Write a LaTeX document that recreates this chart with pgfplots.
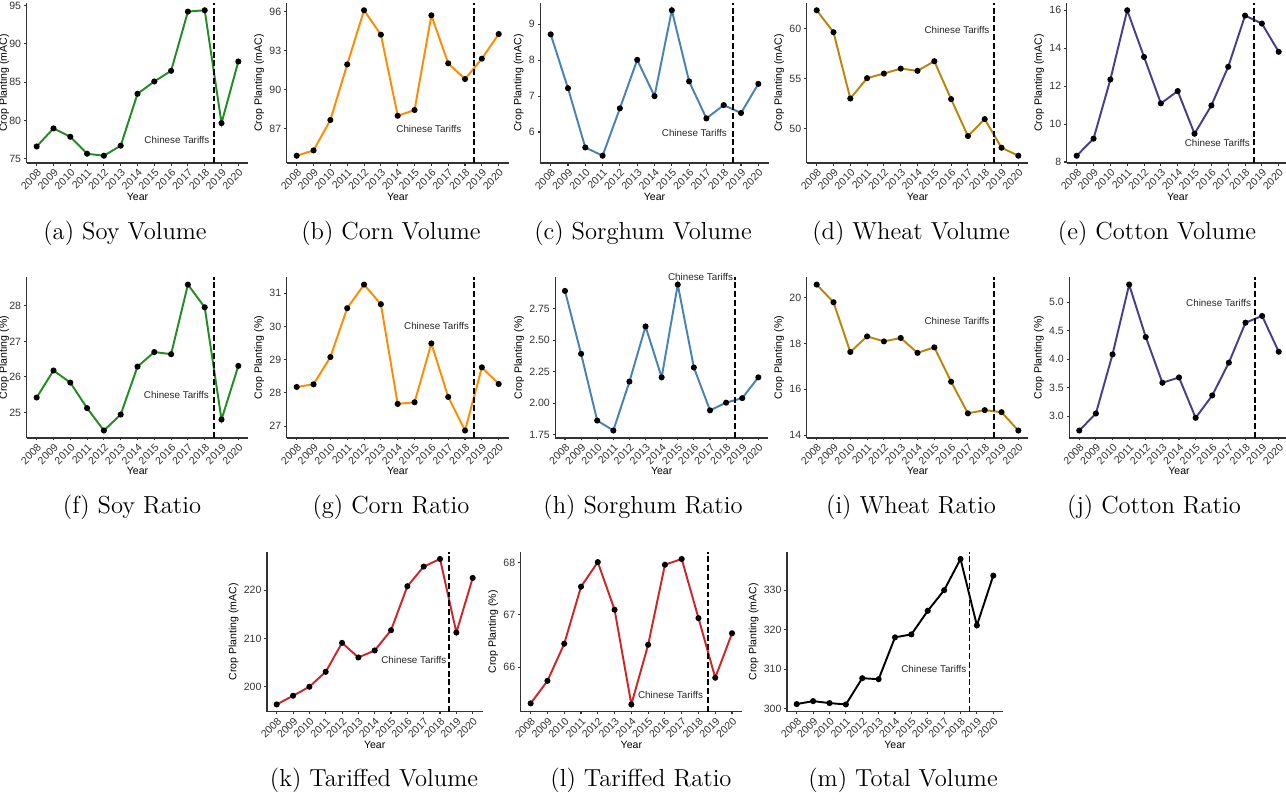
\documentclass[border=0pt]{standalone}
\usepackage{fontspec}
\usepackage{pgfplots}
\pgfplotsset{compat=1.18}
\newfontfamily\arial{Liberation Sans}
\newcommand\tk{\arial\fontsize{6}{7}\selectfont}
\newcommand\lb{\arial\fontsize{6}{7}\selectfont}
\newcommand\ct{\arial\fontsize{5.6}{6}\selectfont}
\newcommand\capfont{\fontsize{14}{16}\selectfont}
\definecolor{Soy}{HTML}{228B22}
\definecolor{Corn}{HTML}{FF8C00}
\definecolor{Sorghum}{HTML}{4682B4}
\definecolor{Wheat}{HTML}{B8860B}
\definecolor{Cotton}{HTML}{483D8B}
\definecolor{Tariffed}{HTML}{CD2626}
\pgfplotsset{
  panel/.style={
    scale only axis,anchor=south west,clip=false,
    axis lines=left,axis line style={-,draw=black!80,line width=0.8pt},
    xmin=2007.4,xmax=2020.6,enlarge y limits=0.05,
    xtick={2008,...,2020},
    xticklabels={2008,2009,2010,2011,2012,2013,2014,2015,2016,2017,2018,2019,2020},
    tick align=outside,major tick length=0.05cm,
    tick style={draw=black!80,line width=0.6pt},
    xticklabel style={rotate=45,anchor=north east,font=\tk,text=black!80,inner sep=1pt},
    yticklabel style={font=\tk,text=black!80,inner sep=1.5pt},
    xlabel={Year},label style={font=\lb},
    xlabel style={yshift=3.5pt},ylabel style={yshift=-2pt},
    every axis plot/.append style={line width=1.1pt,mark=*,mark size=1.15pt,
      mark options={draw=black,fill=black,solid}},
  },
  edge/.style={ylabel style={yshift=-2.8pt}},
}
\newcommand\tariff[2]{%
  \draw[black,line width=1pt,dash pattern=on 3.4pt off 1.6pt]
    ({axis cs:2018.55,0}|-{rel axis cs:0,0}) -- ({axis cs:2018.55,0}|-{rel axis cs:0,1});
  \node[anchor=east,font=\ct,text=black!85,inner sep=0pt] at (axis cs:#1,#2) {Chinese Tariffs};}

\begin{document}
\begin{tikzpicture}
\useasboundingbox (0,0) rectangle (25.72cm,-16.08cm);

% row 1: volumes
\begin{axis}[panel,edge,at={(0.532cm,-3.26cm)},width=4.436cm,height=3.2cm,
  ylabel={Crop Planting (mAC)},ytick={75,80,85,90,95},yticklabels={75,80,85,90,95}]
  \addplot[Soy] coordinates {(2008,76.6) (2009,78.96) (2010,77.87) (2011,75.65) (2012,75.39)
    (2013,76.7) (2014,83.48) (2015,85.09) (2016,86.48) (2017,94.22) (2018,94.39) (2019,79.65) (2020,87.7)};
  \tariff{2018.3}{77.4}
\end{axis}

\begin{axis}[panel,at={(5.732cm,-3.26cm)},width=4.444cm,height=3.2cm,
  ylabel={Crop Planting (mAC)},ytick={87,90,93,96},yticklabels={87,90,93,96}]
  \addplot[Corn] coordinates {(2008,84.92) (2009,85.33) (2010,87.67) (2011,91.96) (2012,96.13)
    (2013,94.25) (2014,88.0) (2015,88.44) (2016,95.74) (2017,92.04) (2018,90.83) (2019,92.4) (2020,94.3)};
  \tariff{2017.8}{87.0}
\end{axis}

\begin{axis}[panel,at={(10.806cm,-3.26cm)},width=4.568cm,height=3.2cm,
  ylabel={Crop Planting (mAC)},ytick={6,7,8,9},yticklabels={6,7,8,9}]
  \addplot[Sorghum] coordinates {(2008,8.72) (2009,7.22) (2010,5.57) (2011,5.34) (2012,6.66)
    (2013,8.01) (2014,7.0) (2015,9.39) (2016,7.41) (2017,6.38) (2018,6.75) (2019,6.53) (2020,7.34)};
  \tariff{2018.2}{5.96}
\end{axis}

\begin{axis}[panel,at={(16.132cm,-3.26cm)},width=4.436cm,height=3.2cm,
  ylabel={Crop Planting (mAC)},ytick={50,55,60},yticklabels={50,55,60}]
  \addplot[Wheat] coordinates {(2008,61.87) (2009,59.67) (2010,53.03) (2011,55.07) (2012,55.53)
    (2013,56.03) (2014,55.8) (2015,56.77) (2016,52.97) (2017,49.27) (2018,50.97) (2019,48.1) (2020,47.3)};
  \tariff{2018.3}{59.93}
\end{axis}

\begin{axis}[panel,at={(21.332cm,-3.26cm)},width=4.444cm,height=3.2cm,
  ylabel={Crop Planting (mAC)},ytick={8,10,12,14,16},yticklabels={8,10,12,14,16}]
  \addplot[Cotton] coordinates {(2008,8.33) (2009,9.23) (2010,12.35) (2011,16.0) (2012,13.54)
    (2013,11.09) (2014,11.74) (2015,9.49) (2016,10.98) (2017,13.02) (2018,15.72) (2019,15.30) (2020,13.81)};
  \tariff{2018.3}{8.98}
\end{axis}

% row 2: ratios
\begin{axis}[panel,edge,at={(0.532cm,-8.756cm)},width=4.436cm,height=3.21cm,
  ylabel={Crop Planting (\%)},ytick={25,26,27,28},yticklabels={25,26,27,28}]
  \addplot[Soy] coordinates {(2008,25.42) (2009,26.18) (2010,25.84) (2011,25.12) (2012,24.49)
    (2013,24.94) (2014,26.29) (2015,26.70) (2016,26.64) (2017,28.60) (2018,27.96) (2019,24.80) (2020,26.31)};
  \tariff{2018.27}{25.48}
\end{axis}

\begin{axis}[panel,at={(5.732cm,-8.756cm)},width=4.444cm,height=3.21cm,
  ylabel={Crop Planting (\%)},ytick={27,28,29,30,31},yticklabels={27,28,29,30,31}]
  \addplot[Corn] coordinates {(2008,28.18) (2009,28.26) (2010,29.08) (2011,30.55) (2012,31.26)
    (2013,30.67) (2014,27.67) (2015,27.72) (2016,29.49) (2017,27.88) (2018,26.87) (2019,28.77) (2020,28.27)};
  \tariff{2018.26}{30.0}
\end{axis}

\begin{axis}[panel,at={(11.106cm,-8.756cm)},width=4.254cm,height=3.21cm,
  ylabel={Crop Planting (\%)},ytick={1.75,2,2.25,2.5,2.75,3},
  yticklabels={1.75,2.00,2.25,2.50,2.75,3.00}]
  \addplot[Sorghum] coordinates {(2008,2.891) (2009,2.392) (2010,1.862) (2011,1.783) (2012,2.171)
    (2013,2.609) (2014,2.205) (2015,2.941) (2016,2.283) (2017,1.943) (2018,2.004) (2019,2.040) (2020,2.205)};
  \tariff{2018.45}{3.0}
\end{axis}

\begin{axis}[panel,at={(16.132cm,-8.756cm)},width=4.436cm,height=3.21cm,
  ylabel={Crop Planting (\%)},ytick={14,16,18,20},yticklabels={14,16,18,20}]
  \addplot[Wheat] coordinates {(2008,20.57) (2009,19.80) (2010,17.63) (2011,18.31) (2012,18.09)
    (2013,18.24) (2014,17.59) (2015,17.83) (2016,16.33) (2017,14.95) (2018,15.09) (2019,15.00) (2020,14.20)};
  \tariff{2018.3}{18.98}
\end{axis}

\begin{axis}[panel,at={(21.386cm,-8.756cm)},width=4.388cm,height=3.21cm,
  ylabel={Crop Planting (\%)},ytick={3,3.5,4,4.5,5},yticklabels={3.0,3.5,4.0,4.5,5.0}]
  \addplot[Cotton] coordinates {(2008,2.748) (2009,3.047) (2010,4.085) (2011,5.311) (2012,4.39)
    (2013,3.587) (2014,3.68) (2015,2.971) (2016,3.364) (2017,3.94) (2018,4.642) (2019,4.76) (2020,4.132)};
  \tariff{2018.36}{4.98}
\end{axis}

% row 3: tariffed and total
\begin{axis}[panel,at={(5.338cm,-14.234cm)},width=4.312cm,height=3.2cm,
  ylabel={Crop Planting (mAC)},ytick={200,210,220},yticklabels={200,210,220}]
  \addplot[Tariffed] coordinates {(2008,196.34) (2009,198.14) (2010,200.0) (2011,203.1) (2012,209.1)
    (2013,206.07) (2014,207.52) (2015,211.72) (2016,220.83) (2017,224.9) (2018,226.48) (2019,211.24) (2020,222.55)};
  \tariff{2018.4}{205.5}
\end{axis}

\begin{axis}[panel,at={(10.412cm,-14.234cm)},width=4.43cm,height=3.2cm,
  ylabel={Crop Planting (\%)},ytick={66,67,68},yticklabels={66,67,68}]
  \addplot[Tariffed] coordinates {(2008,65.31) (2009,65.74) (2010,66.45) (2011,67.54) (2012,68.01)
    (2013,67.10) (2014,65.29) (2015,66.43) (2016,67.96) (2017,68.07) (2018,66.94) (2019,65.80) (2020,66.65)};
  \tariff{2018.29}{65.47}
\end{axis}

\begin{axis}[panel,at={(15.738cm,-14.234cm)},width=4.324cm,height=3.2cm,
  ylabel={Crop Planting (mAC)},ytick={300,310,320,330},yticklabels={300,310,320,330}]
  \addplot[black] coordinates {(2008,301.18) (2009,301.93) (2010,301.43) (2011,301.09) (2012,307.73)
    (2013,307.48) (2014,318.07) (2015,318.82) (2016,324.79) (2017,330.0) (2018,337.9) (2019,321.09) (2020,333.7)};
  \tariff{2018.37}{310}
\end{axis}

% captions
\node[font=\capfont] at (2.5cm,-4.66cm) {(a) Soy Volume};
\node[font=\capfont] at (7.82cm,-4.66cm) {(b) Corn Volume};
\node[font=\capfont] at (12.86cm,-4.66cm) {(c) Sorghum Volume};
\node[font=\capfont] at (18.22cm,-4.66cm) {(d) Wheat Volume};
\node[font=\capfont] at (23.14cm,-4.66cm) {(e) Cotton Volume};
\node[font=\capfont] at (2.64cm,-10.14cm) {(f) Soy Ratio};
\node[font=\capfont] at (7.82cm,-10.14cm) {(g) Corn Ratio};
\node[font=\capfont] at (12.86cm,-10.14cm) {(h) Sorghum Ratio};
\node[font=\capfont] at (18.22cm,-10.14cm) {(i) Wheat Ratio};
\node[font=\capfont] at (23.08cm,-10.14cm) {(j) Cotton Ratio};
\node[font=\capfont] at (7.48cm,-15.6cm) {(k) Tariffed Volume};
\node[font=\capfont] at (12.82cm,-15.6cm) {(l) Tariffed Ratio};
\node[font=\capfont] at (18.06cm,-15.6cm) {(m) Total Volume};
\end{tikzpicture}
\end{document}
